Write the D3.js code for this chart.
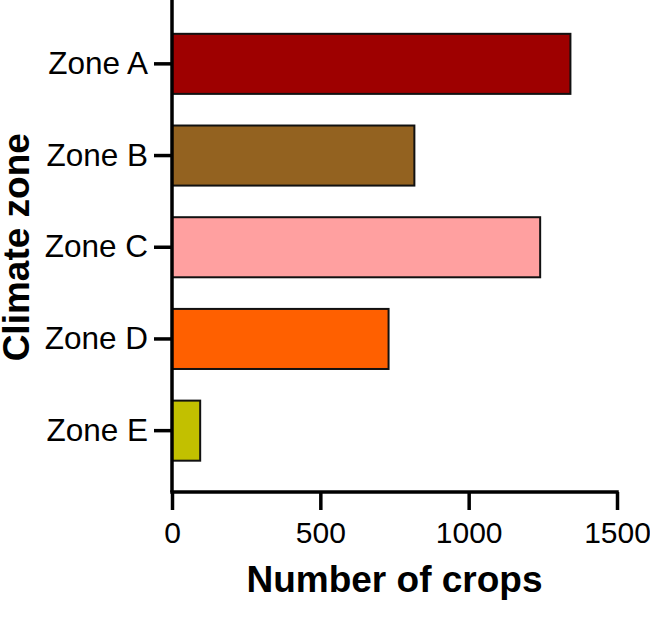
<!DOCTYPE html>
<html>
<head>
<meta charset="utf-8">
<script src="https://cdn.jsdelivr.net/npm/d3@7"></script>
<style>
  body { margin: 0; background: #fff; }
  svg { display: block; }
</style>
</head>
<body>
<div id="chart"></div>
<script>
// data
const zones = ['Zone A', 'Zone B', 'Zone C', 'Zone D', 'Zone E'];
const crops = [1343, 817, 1241, 730, 95];
const zoneColors = ['#9e0000', '#936220', '#ffa0a0', '#ff6000', '#c2c000'];
const xTicks = [0, 500, 1000, 1500];

const width = 650, height = 620;
const left = 172, right = 617, axisY = 492;

const svg = d3.select('#chart').append('svg')
    .attr('width', width).attr('height', height);

const x = d3.scaleLinear().domain([0, 1500]).range([left, right]);
const y = d3.scaleBand().domain(zones).range([18, 476.5])
    .paddingInner(0.345).paddingOuter(0.1725);

// bars
svg.append('g').selectAll('rect')
  .data(zones)
  .join('rect')
    .attr('x', x(0))
    .attr('y', d => y(d))
    .attr('width', (d, i) => x(crops[i]) - x(0))
    .attr('height', y.bandwidth())
    .attr('fill', (d, i) => zoneColors[i])
    .attr('stroke', '#111')
    .attr('stroke-width', 2);

// x axis
const xAxis = svg.append('g')
    .attr('transform', `translate(0,${axisY})`)
    .call(d3.axisBottom(x).tickValues(xTicks).tickFormat(d3.format('d'))
      .tickSize(18).tickPadding(12).tickSizeOuter(0));

// y axis
const yAxis = svg.append('g')
    .attr('transform', `translate(${left},0)`)
    .call(d3.axisLeft(y).tickSize(18).tickPadding(6).tickSizeOuter(0));

yAxis.select('.domain').attr('d', `M0,0V${axisY}`);

[xAxis, yAxis].forEach(g => {
  g.select('.domain').attr('stroke', '#000').attr('stroke-width', 3.5);
  g.selectAll('.tick line').attr('stroke', '#000').attr('stroke-width', 3.5);
  g.selectAll('.tick text')
    .attr('fill', '#000')
    .style('font-family', 'Liberation Sans, Arial, sans-serif');
});
xAxis.selectAll('.tick text').style('font-size', '30px');
yAxis.selectAll('.tick text').style('font-size', '31.5px');
xAxis.select('.domain').attr('d', `M${left - 1.75},0H${right + 1.75}`);

// axis titles
svg.append('text')
    .attr('x', (left + right) / 2)
    .attr('y', 592)
    .attr('text-anchor', 'middle')
    .style('font-family', 'Liberation Sans, Arial, sans-serif')
    .style('font-size', '37px')
    .style('font-weight', 'bold')
    .text('Number of crops');

svg.append('text')
    .attr('transform', `translate(28.5,${(18 + 476.5) / 2}) rotate(-90)`)
    .attr('text-anchor', 'middle')
    .style('font-family', 'Liberation Sans, Arial, sans-serif')
    .style('font-size', '37px')
    .style('font-weight', 'bold')
    .text('Climate zone');
</script>
</body>
</html>
